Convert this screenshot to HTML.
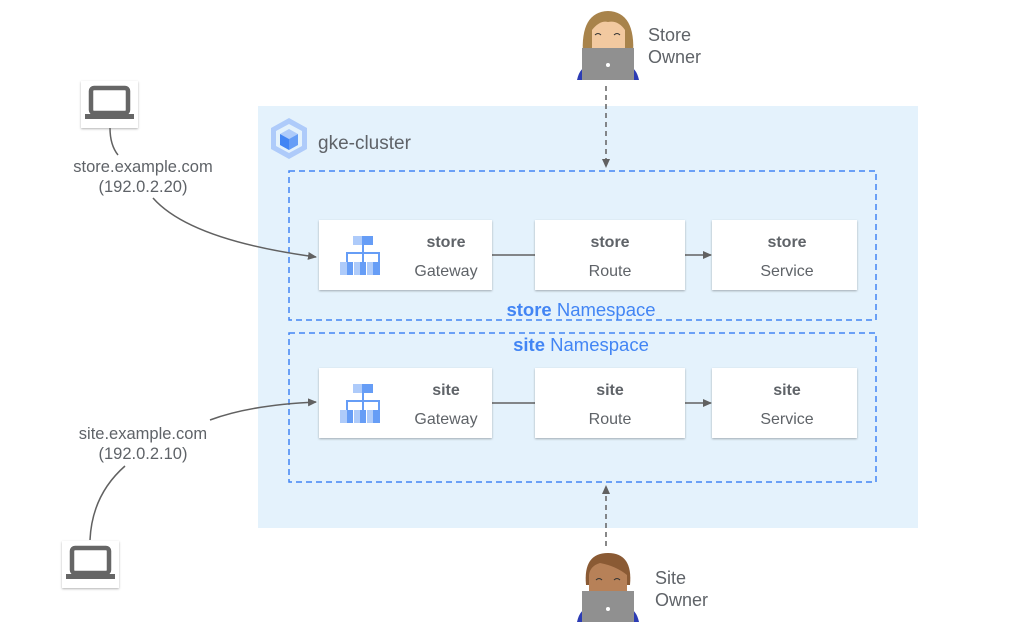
<!DOCTYPE html>
<html><head><style>
body{margin:0;background:#fff;}
svg text{font-family:"Liberation Sans",sans-serif;}
</style></head><body>
<svg width="1024" height="634" xmlns="http://www.w3.org/2000/svg">
<defs>
<marker id="a" markerWidth="10" markerHeight="10" refX="8" refY="5" orient="auto" markerUnits="userSpaceOnUse"><path d="M0,1 L9,5 L0,9 z" fill="#616161"/></marker>
<filter id="s" x="-10%" y="-10%" width="120%" height="130%"><feDropShadow dx="0" dy="1" stdDeviation="1" flood-color="#000" flood-opacity="0.3"/></filter>
<g id="gw">
<rect x="13" y="0" width="20" height="9" fill="#aecbfa"/><rect x="22" y="0" width="11" height="9" fill="#669df6"/>
<rect x="22" y="9" width="2" height="7" fill="#669df6"/>
<rect x="6" y="16" width="34" height="2" fill="#669df6"/>
<rect x="6" y="18" width="2" height="8" fill="#669df6"/><rect x="22" y="18" width="2" height="8" fill="#669df6"/><rect x="38" y="18" width="2" height="8" fill="#669df6"/>
<rect x="0" y="26" width="7" height="13" fill="#aecbfa"/><rect x="7" y="26" width="6" height="13" fill="#669df6"/>
<rect x="14" y="26" width="6" height="13" fill="#aecbfa"/><rect x="20" y="26" width="6" height="13" fill="#669df6"/>
<rect x="27" y="26" width="6" height="13" fill="#aecbfa"/><rect x="33" y="26" width="7" height="13" fill="#669df6"/>
</g>
<g id="lap">
<rect x="0" y="0" width="57" height="47" fill="#fff" filter="url(#s)"/>
<rect x="10" y="7" width="37" height="25" rx="3" fill="none" stroke="#666" stroke-width="4.5"/>
<rect x="4" y="33" width="49" height="5" fill="#666"/>
</g>
</defs>
<rect x="258" y="106" width="660" height="422" fill="#e4f2fc"/>
<!-- gke icon -->
<polygon points="289,118 307,128 307,149 289,159 271,149 271,128" fill="#aecbfa"/>
<polygon points="289,124 302,131 302,146 289,153 276,146 276,131" fill="#e4f2fc"/>
<polygon points="289,129 298,134 289,139 280,134" fill="#aecbfa"/>
<polygon points="280,134 289,139 289,150 280,145" fill="#4285f4"/>
<polygon points="298,134 289,139 289,150 298,145" fill="#669df6"/>
<text x="318" y="149" font-size="19" fill="#5f6368">gke-cluster</text>
<rect x="289" y="171" width="587" height="149" fill="none" stroke="#4285f4" stroke-width="1.5" stroke-dasharray="6,4"/>
<rect x="289" y="333" width="587" height="149" fill="none" stroke="#4285f4" stroke-width="1.5" stroke-dasharray="6,4"/>
<text x="581" y="316" font-size="18.5" fill="#4285f4" text-anchor="middle"><tspan font-weight="bold">store</tspan> Namespace</text>
<text x="581" y="351" font-size="18.5" fill="#4285f4" text-anchor="middle"><tspan font-weight="bold">site</tspan> Namespace</text>
<line x1="492" y1="255" x2="535" y2="255" stroke="#616161" stroke-width="1.5"/>
<line x1="685" y1="255" x2="711" y2="255" stroke="#616161" stroke-width="1.5" marker-end="url(#a)"/>
<line x1="492" y1="403" x2="535" y2="403" stroke="#616161" stroke-width="1.5"/>
<line x1="685" y1="403" x2="711" y2="403" stroke="#616161" stroke-width="1.5" marker-end="url(#a)"/>
<g filter="url(#s)" fill="#fff">
<rect x="319" y="220" width="173" height="70"/><rect x="535" y="220" width="150" height="70"/><rect x="712" y="220" width="145" height="70"/>
<rect x="319" y="368" width="173" height="70"/><rect x="535" y="368" width="150" height="70"/><rect x="712" y="368" width="145" height="70"/>
</g>
<use href="#gw" x="340" y="236"/><use href="#gw" x="340" y="384"/>
<g font-size="16" fill="#5f6368" text-anchor="middle">
<text x="446" y="247" font-weight="bold">store</text><text x="446" y="276">Gateway</text>
<text x="610" y="247" font-weight="bold">store</text><text x="610" y="276">Route</text>
<text x="787" y="247" font-weight="bold">store</text><text x="787" y="276">Service</text>
<text x="446" y="395" font-weight="bold">site</text><text x="446" y="424">Gateway</text>
<text x="610" y="395" font-weight="bold">site</text><text x="610" y="424">Route</text>
<text x="787" y="395" font-weight="bold">site</text><text x="787" y="424">Service</text>
</g>
<use href="#lap" x="81" y="81"/><use href="#lap" x="62" y="541"/>
<g font-size="16.5" fill="#5f6368" text-anchor="middle">
<text x="143" y="172">store.example.com</text><text x="143" y="192">(192.0.2.20)</text>
<text x="143" y="439">site.example.com</text><text x="143" y="459">(192.0.2.10)</text>
</g>
<g fill="none" stroke="#616161" stroke-width="1.5">
<path d="M110,128 Q110,145 118,155"/>
<path d="M153,198 Q190,240 316,257" marker-end="url(#a)"/>
<path d="M210,420 Q250,405 316,402" marker-end="url(#a)"/>
<path d="M90,540 Q92,495 125,466"/>
<path d="M606,86 L606,167" stroke-dasharray="5,4" marker-end="url(#a)"/>
<path d="M606,546 L606,486" stroke-dasharray="5,4" marker-end="url(#a)"/>
</g>
<g>
<path d="M583,55 Q580,12 608,11 Q636,12 633,55 Z" fill="#a8834b"/>
<path d="M592,30 Q600,20 608,22 Q618,20 625,30 L625,55 L592,55 Z" fill="#f2c9a0"/>
<path d="M595,35 q3,-3 6,0 M614,35 q3,-3 6,0" stroke="#333" fill="none" stroke-width="1"/>
<path d="M577,80 Q580,66 590,66 L626,66 Q636,66 639,80 Z" fill="#2c3cb4"/>
<rect x="582" y="48" width="52" height="32" fill="#909090"/>
<circle cx="608" cy="65" r="2" fill="#fff"/>
</g>
<text x="648" y="41" font-size="18" fill="#5f6368">Store</text>
<text x="648" y="63" font-size="18" fill="#5f6368">Owner</text>
<g>
<path d="M586,585 Q583,553 608,553 Q633,553 630,585 Z" fill="#8a5a34"/>
<path d="M589,575 Q590,566 600,563 Q616,566 627,575 L627,600 L589,600 Z" fill="#b78158"/>
<path d="M596,580 q3,-3 6,0 M614,580 q3,-3 6,0" stroke="#333" fill="none" stroke-width="1"/>
<path d="M577,622 Q580,608 590,608 L626,608 Q636,608 639,622 Z" fill="#2c3cb4"/>
<rect x="582" y="591" width="52" height="31" fill="#909090"/>
<circle cx="608" cy="609" r="2" fill="#fff"/>
</g>
<text x="655" y="584" font-size="18" fill="#5f6368">Site</text>
<text x="655" y="606" font-size="18" fill="#5f6368">Owner</text>
</svg>
</body></html>
